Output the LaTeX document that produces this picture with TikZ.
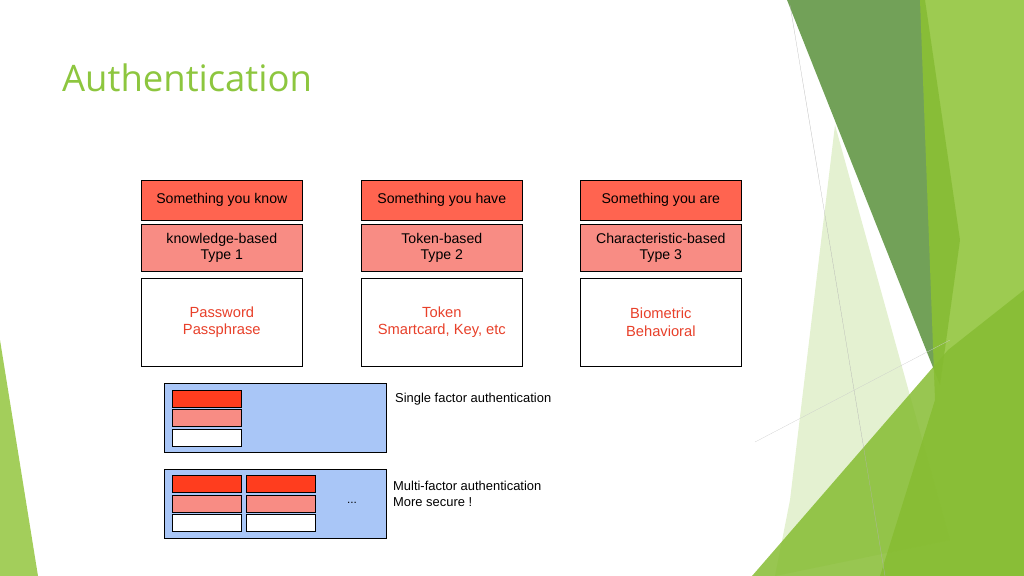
\documentclass[tikz,border=0pt]{standalone}
\usepackage{fontspec}
\setmainfont{Liberation Sans}
\newfontfamily\titlefont{Open Sans}
\definecolor{hdrred}{HTML}{FF6450}
\definecolor{typered}{HTML}{F88C84}
\definecolor{txtred}{HTML}{E8402A}
\definecolor{barred}{HTML}{FF3D1E}
\definecolor{panelblue}{HTML}{A9C6F7}
\definecolor{titlegreen}{HTML}{8DC63F}
\definecolor{darkleaf}{HTML}{4F8A2E}
\definecolor{leaf}{HTML}{8CC232}
\tikzset{
  hdrbox/.style={draw,fill=hdrred,minimum width=137pt,minimum height=34pt,anchor=north west,font=\fontsize{12}{14}\selectfont},
  typebox/.style={draw,fill=typered,minimum width=137pt,minimum height=40pt,anchor=north west,align=center,font=\fontsize{12}{14}\selectfont},
  examplebox/.style={draw,fill=white,minimum width=137pt,minimum height=75pt,anchor=north west,align=center,text=txtred,font=\fontsize{12.5}{15}\selectfont},
  panel/.style={draw,fill=panelblue,minimum width=189pt,minimum height=59pt,anchor=north west},
  bar/.style={draw,minimum width=59pt,minimum height=14.5pt,anchor=north west,inner sep=0},
  note/.style={anchor=west,align=left,font=\fontsize{11}{13.5}\selectfont}
}
\begin{document}
\begin{tikzpicture}[x=0.85pt,y=-0.85pt]
\useasboundingbox (0,0) rectangle (1024,576);
% decoration
\fill[leaf!80] (0,340) -- (38,576) -- (0,576) -- cycle;
\fill[titlegreen!30,opacity=0.8] (835,125) -- (950,540) -- (775,576) -- (790,500) -- cycle;
\fill[darkleaf,opacity=0.8] (787,0) -- (925,0) -- (960,240) -- (940,385) -- cycle;
\fill[leaf,opacity=0.85] (920,0) -- (1024,0) -- (1024,576) -- (880,576) -- (935,400) -- cycle;
\fill[leaf!90!darkleaf,opacity=0.85] (752,576) -- (948,350) -- (1024,290) -- (1024,576) -- cycle;
\draw[gray!60,very thin] (790,5) -- (885,576);
\draw[gray!40,very thin] (755,442) -- (950,340);
% title
\node[anchor=west,text=titlegreen,font=\titlefont\fontsize{31}{36}\selectfont] (title) at (58,78) {Authentication};
% factor columns
\foreach \x/\n/\h/\t/\e in {141/know/{Something you know}/{knowledge-based\\Type 1}/{Password\\Passphrase},
  361/have/{Something you have}/{Token-based\\Type 2}/{Token\\Smartcard, Key, etc},
  580/are/{Something you are}/{Characteristic-based\\Type 3}/{Biometric\\Behavioral}}{
  \node[hdrbox] (h\n) at (\x,180) {\h};
  \node[typebox] (t\n) at (\x,224) {\t};
  \node[examplebox] (e\n) at (\x,278) {\e};
}
% single factor
\node[panel] (single) at (164,383) {};
\node[bar,fill=barred] (s1) at (172,390) {};
\node[bar,fill=typered] (s2) at (172,409) {};
\node[bar,fill=white] (s3) at (172,429) {};
\node[note] (singletxt) at (391,399) {Single factor authentication};
% multi factor
\node[panel] (multi) at (164,469) {};
\foreach \x/\c in {172/a,246/b}{
  \node[bar,fill=barred] (m1\c) at (\x,475) {};
  \node[bar,fill=typered] (m2\c) at (\x,495) {};
  \node[bar,fill=white] (m3\c) at (\x,514) {};
}
\node[font=\fontsize{10}{12}\selectfont] (dots) at (352,503) {...};
\node[note] (multitxt) at (389,494) {Multi-factor authentication\\More secure !};
\end{tikzpicture}
\end{document}
